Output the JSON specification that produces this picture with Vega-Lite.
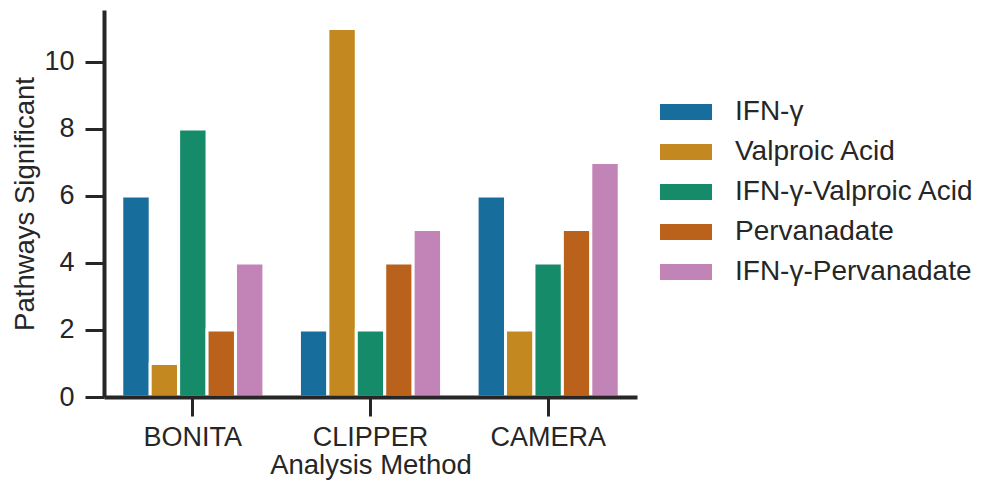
{
  "$schema": "https://vega.github.io/schema/vega-lite/v6.json",
  "width": 533,
  "height": 387,
  "autosize": {"type": "none"},
  "padding": {"left": 104, "top": 10, "right": 353, "bottom": 85},
  "background": "white",
  "data": {
    "values": [
      {"method": "BONITA", "treatment": "IFN-γ", "count": 6},
      {"method": "BONITA", "treatment": "Valproic Acid", "count": 1},
      {"method": "BONITA", "treatment": "IFN-γ-Valproic Acid", "count": 8},
      {"method": "BONITA", "treatment": "Pervanadate", "count": 2},
      {"method": "BONITA", "treatment": "IFN-γ-Pervanadate", "count": 4},
      {"method": "CLIPPER", "treatment": "IFN-γ", "count": 2},
      {"method": "CLIPPER", "treatment": "Valproic Acid", "count": 11},
      {"method": "CLIPPER", "treatment": "IFN-γ-Valproic Acid", "count": 2},
      {"method": "CLIPPER", "treatment": "Pervanadate", "count": 4},
      {"method": "CLIPPER", "treatment": "IFN-γ-Pervanadate", "count": 5},
      {"method": "CAMERA", "treatment": "IFN-γ", "count": 6},
      {"method": "CAMERA", "treatment": "Valproic Acid", "count": 2},
      {"method": "CAMERA", "treatment": "IFN-γ-Valproic Acid", "count": 4},
      {"method": "CAMERA", "treatment": "Pervanadate", "count": 5},
      {"method": "CAMERA", "treatment": "IFN-γ-Pervanadate", "count": 7}
    ]
  },
  "mark": {"type": "bar", "stroke": "white", "strokeWidth": 3},
  "encoding": {
    "x": {
      "field": "method",
      "type": "nominal",
      "sort": ["BONITA", "CLIPPER", "CAMERA"],
      "scale": {"paddingInner": 0.2, "paddingOuter": 0.1},
      "axis": {
        "title": "Analysis Method",
        "labelAngle": 0,
        "domainWidth": 4,
        "domainColor": "#262626",
        "tickColor": "#262626",
        "tickWidth": 3,
        "tickSize": 19,
        "labelPadding": 8,
        "titlePadding": 1,
        "zindex": 1
      }
    },
    "xOffset": {
      "field": "treatment",
      "type": "nominal",
      "sort": ["IFN-γ", "Valproic Acid", "IFN-γ-Valproic Acid", "Pervanadate", "IFN-γ-Pervanadate"]
    },
    "y": {
      "field": "count",
      "type": "quantitative",
      "scale": {"domain": [0, 11.55], "nice": false},
      "axis": {
        "title": "Pathways Significant",
        "values": [0, 2, 4, 6, 8, 10],
        "grid": false,
        "domainWidth": 4,
        "domainColor": "#262626",
        "tickColor": "#262626",
        "tickWidth": 3,
        "tickSize": 19,
        "labelPadding": 11,
        "titlePadding": 4,
        "zindex": 1
      }
    },
    "color": {
      "field": "treatment",
      "type": "nominal",
      "sort": ["IFN-γ", "Valproic Acid", "IFN-γ-Valproic Acid", "Pervanadate", "IFN-γ-Pervanadate"],
      "scale": {
        "domain": ["IFN-γ", "Valproic Acid", "IFN-γ-Valproic Acid", "Pervanadate", "IFN-γ-Pervanadate"],
        "range": ["#176d9c", "#c38820", "#158b6a", "#ba611b", "#c283b6"]
      },
      "legend": {
        "title": null,
        "orient": "none",
        "legendX": 556,
        "legendY": 76,
        "symbolType": "M-1,-0.3077H1V0.3077H-1Z",
        "symbolSize": 2704,
        "symbolStrokeWidth": 0,
        "symbolOpacity": 1,
        "labelFont": "Liberation Sans",
        "labelFontSize": 28,
        "labelColor": "#262626",
        "labelOffset": 23,
        "rowPadding": -1,
        "labelLimit": 400
      }
    }
  },
  "config": {
    "view": {"stroke": null},
    "axis": {
      "labelFont": "Liberation Sans",
      "titleFont": "Liberation Sans",
      "labelFontSize": 27,
      "titleFontSize": 27.5,
      "titleFontWeight": "normal",
      "labelColor": "#262626",
      "titleColor": "#262626"
    }
  }
}
